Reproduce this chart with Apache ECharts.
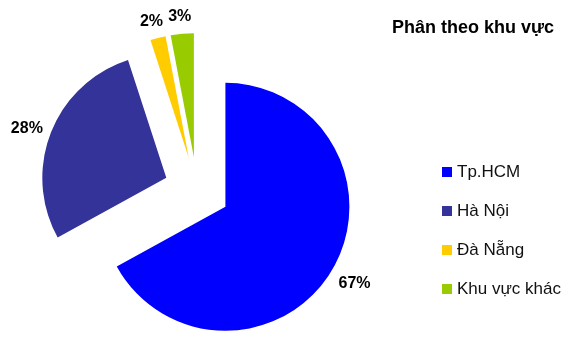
<!DOCTYPE html>
<html>
<head>
<meta charset="utf-8">
<script src="https://cdn.jsdelivr.net/npm/echarts@6/dist/echarts.min.js"></script>
<style>
html,body{margin:0;padding:0;background:#fff;}
#chart{width:569px;height:345px;}
</style>
</head>
<body>
<div id="chart"></div>
<script>
const categories = ['Tp.HCM', 'Hà Nội', 'Đà Nẵng', 'Khu vực khác'];
const values = [67, 28, 2, 3];
const colors = ['#0000FF', '#333399', '#FFCC00', '#99CC00'];
const titleText = 'Phân theo khu vực';

// small vertical nudges of the value labels (style only), mimicking Excel's outside-end placement
const labelNudgeY = [0, 6, 9, 9];

const chart = echarts.init(document.getElementById('chart'));
const pieData = categories.map((c, i) => ({
  name: c, value: values[i], selected: true,
  itemStyle: { color: colors[i] }
}));
const labelData = categories.map((c, i) => ({
  name: c, value: values[i], selected: true
}));
const font = 'Liberation Sans, Arial, sans-serif';
chart.setOption({
  animation: false,
  backgroundColor: '#fff',
  title: {
    text: titleText,
    left: 387, top: 14,
    textStyle: { fontFamily: font, fontSize: 18, fontWeight: 'bold', color: '#000' }
  },
  legend: {
    orient: 'vertical',
    left: 437, top: 157,
    itemWidth: 10, itemHeight: 10, itemGap: 19,
    icon: 'rect',
    data: categories,
    textStyle: { fontFamily: font, fontSize: 17, lineHeight: 20, color: '#111' }
  },
  series: [
    {
      type: 'pie',
      center: [197, 190],
      radius: [0, 124],
      startAngle: 90,
      clockwise: true,
      selectedMode: 'multiple',
      selectedOffset: 33,
      label: { show: false },
      labelLine: { show: false },
      emphasis: { disabled: true },
      data: pieData
    },
    {
      type: 'pie',
      center: [197, 190],
      radius: [134, 160],
      startAngle: 90,
      clockwise: true,
      selectedMode: 'multiple',
      selectedOffset: 33,
      silent: true,
      itemStyle: { color: 'rgba(0,0,0,0)' },
      label: {
        show: true, position: 'inside',
        formatter: '{c}%',
        fontFamily: font, fontSize: 16, fontWeight: 'bold', color: '#000'
      },
      labelLayout: function (params) {
        return { dy: labelNudgeY[params.dataIndex] || 0 };
      },
      labelLine: { show: false },
      emphasis: { disabled: true },
      data: labelData
    }
  ]
});
</script>
</body>
</html>
